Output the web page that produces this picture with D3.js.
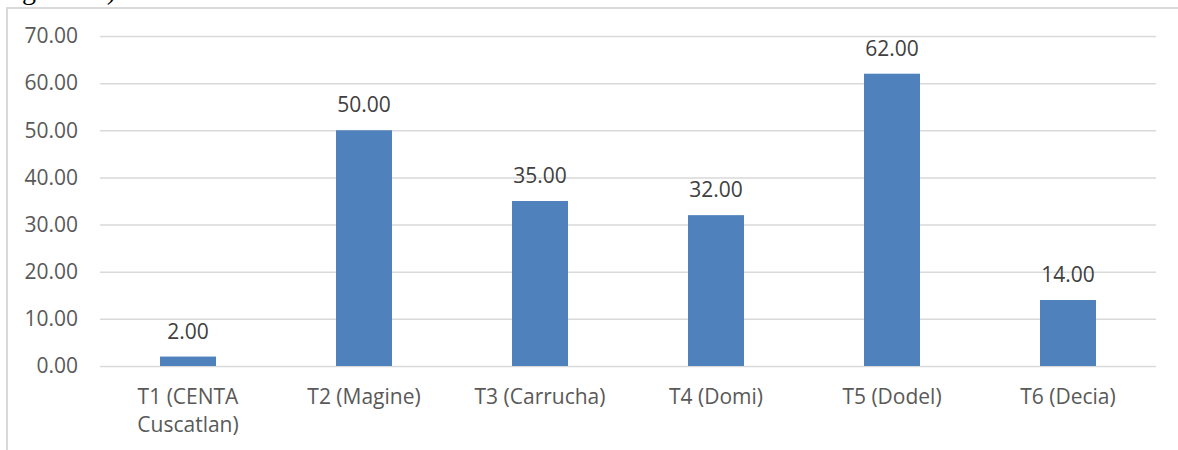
<!DOCTYPE html>
<html>
<head>
<meta charset="utf-8">
<script src="https://cdn.jsdelivr.net/npm/d3@7"></script>
<style>
  html, body { margin: 0; padding: 0; background: #fff; }
  svg { display: block; }
</style>
</head>
<body>
<svg id="chart" width="1178" height="450"></svg>
<script>
// Treatments (category labels, split into lines) and their values
const categories = ["T1 (CENTA Cuscatlan)", "T2 (Magine)", "T3 (Carrucha)", "T4 (Domi)", "T5 (Dodel)", "T6 (Decia)"];
const categoryLines = [["T1 (CENTA", "Cuscatlan)"], ["T2 (Magine)"], ["T3 (Carrucha)"], ["T4 (Domi)"], ["T5 (Dodel)"], ["T6 (Decia)"]];
const values = [2, 50, 35, 32, 62, 14];
const yTicks = [0, 10, 20, 30, 40, 50, 60, 70];

const svg = d3.select("#chart");
const W = 1178, H = 450;
const margin = { left: 100, right: 22, top: 36, bottom: 84 };
const font = "'Open Sans', 'Liberation Sans', sans-serif";

// Caption line from the surrounding document, mostly above the frame
svg.append("text")
  .attr("x", 22).attr("y", -1)
  .attr("font-family", "'Liberation Serif', 'Times New Roman', serif")
  .attr("font-size", 28)
  .attr("fill", "#000")
  .text("gura 10)");

// Chart frame (top and left edges visible)
svg.append("path")
  .attr("d", `M7,${H} V8 H${W}`)
  .attr("fill", "none")
  .attr("stroke", "#d9d9d9")
  .attr("stroke-width", 2);

const x = d3.scaleBand()
  .domain(categories)
  .range([margin.left, W - margin.right])
  .paddingInner(0.682)
  .paddingOuter(0.341);

const y = d3.scaleLinear()
  .domain([0, 70])
  .range([H - margin.bottom, margin.top]);

// Horizontal gridlines with value labels
const yAxis = d3.axisLeft(y)
  .tickValues(yTicks)
  .tickFormat(d3.format(".2f"))
  .tickSize(-(W - margin.right - margin.left))
  .tickPadding(22);

const gy = svg.append("g")
  .attr("transform", `translate(${margin.left},0)`)
  .call(yAxis);
gy.select(".domain").remove();
gy.selectAll(".tick line").attr("stroke", "#d9d9d9").attr("stroke-width", 1.5);
gy.selectAll(".tick text")
  .attr("font-family", font)
  .attr("font-size", 21)
  .attr("fill", "#595959");

// Bars
svg.append("g").selectAll("rect")
  .data(values)
  .join("rect")
  .attr("x", (d, i) => x(categories[i]))
  .attr("width", x.bandwidth())
  .attr("y", d => y(d))
  .attr("height", d => y(0) - y(d))
  .attr("fill", "#4f81bd");

// Value labels above bars
svg.append("g").selectAll("text")
  .data(values)
  .join("text")
  .attr("x", (d, i) => x(categories[i]) + x.bandwidth() / 2)
  .attr("y", d => y(d) - 18)
  .attr("text-anchor", "middle")
  .attr("font-family", font)
  .attr("font-size", 21)
  .attr("fill", "#404040")
  .text(d => d3.format(".2f")(d));

// Category labels
const gx = svg.append("g").selectAll("text")
  .data(categories)
  .join("text")
  .attr("x", d => x(d) + x.bandwidth() / 2)
  .attr("y", 404)
  .attr("text-anchor", "middle")
  .attr("font-family", font)
  .attr("font-size", 21)
  .attr("fill", "#595959");
gx.selectAll("tspan")
  .data((d, i) => categoryLines[i])
  .join("tspan")
  .attr("x", function () { return d3.select(this.parentNode).attr("x"); })
  .attr("dy", (d, j) => j === 0 ? 0 : 28)
  .text(d => d);
</script>
</body>
</html>
